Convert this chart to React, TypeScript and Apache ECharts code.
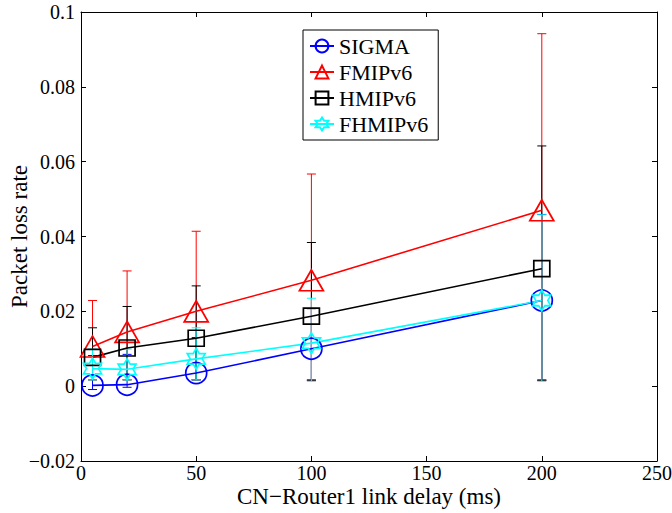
import React, { useEffect, useRef } from "react";
import * as echarts from "echarts";

// Data
const xValues = [5, 20, 50, 100, 200];
const seriesNames = ["SIGMA", "FMIPv6", "HMIPv6", "FHMIPv6"];
const sigma = [0.0002, 0.0004, 0.0035, 0.0100, 0.0229];
const fmip = [0.0106, 0.0145, 0.0200, 0.0283, 0.0470];
const hmip = [0.0077, 0.0102, 0.0128, 0.0187, 0.0314];
const fhmip = [0.0047, 0.0045, 0.0073, 0.0115, 0.0229];
const sigmaLow = [-0.0009, -0.0003, 0.0017, 0.0016, 0.0016];
const sigmaHigh = [0.0082, 0.0085, 0.0130, 0.0207, 0.0459];
const fmipLow = [0.0017, 0.0017, 0.0017, 0.0016, 0.0016];
const fmipHigh = [0.0229, 0.0308, 0.0414, 0.0567, 0.0942];
const hmipLow = [0.0017, 0.0017, 0.0017, 0.0016, 0.0016];
const hmipHigh = [0.0156, 0.0213, 0.0268, 0.0384, 0.0642];
const fhmipLow = [0.0017, 0.0017, 0.0017, 0.0013, 0.0013];
const fhmipHigh = [0.0099, 0.0099, 0.0156, 0.0235, 0.0458];
const yTickLabels = ["\u22120.02", "0", "0.02", "0.04", "0.06", "0.08", "0.1"];
const xTickLabels = ["0", "50", "100", "150", "200", "250"];

const FONT = "'Liberation Serif', 'Times New Roman', serif";
const HEXAGRAM =
  "path://M0,-100L28.9,-50L86.6,-50L57.7,0L86.6,50L28.9,50L0,100L-28.9,50L-86.6,50L-57.7,0L-86.6,-50L-28.9,-50Z";

export default function App() {
  const ref = useRef<HTMLDivElement>(null);
  useEffect(() => {
    if (!ref.current) return;
    const chart = echarts.init(ref.current, null, { renderer: "svg" });
    const yMin = -0.02, yStep = 0.02;
    const xStep = 50;

    const specs = [
      { name: seriesNames[0], vals: sigma, lo: sigmaLow, hi: sigmaHigh, color: "#0000ff", symbol: "circle", size: [21, 21] },
      { name: seriesNames[1], vals: fmip, lo: fmipLow, hi: fmipHigh, color: "#ff0000", symbol: "triangle", size: [24, 21] },
      { name: seriesNames[2], vals: hmip, lo: hmipLow, hi: hmipHigh, color: "#000000", symbol: "rect", size: [16, 16] },
      { name: seriesNames[3], vals: fhmip, lo: fhmipLow, hi: fhmipHigh, color: "#00ffff", symbol: HEXAGRAM, size: [18, 21] },
    ];

    const series: any[] = [];
    specs.forEach((s) => {
      series.push({
        type: "custom",
        name: s.name + " err",
        xAxisIndex: 0,
        yAxisIndex: 0,
        data: xValues.map((x, i) => [x, s.lo[i], s.hi[i]]),
        encode: { x: 0, y: [1, 2] },
        renderItem: (params: any, api: any) => {
          const x = api.value(0);
          const lo = api.coord([x, api.value(1)]);
          const hi = api.coord([x, api.value(2)]);
          const hw = 4.5;
          const st = { stroke: s.color, lineWidth: 1 };
          return {
            type: "group",
            children: [
              { type: "line", shape: { x1: lo[0], y1: lo[1], x2: hi[0], y2: hi[1] }, style: st },
              { type: "line", shape: { x1: lo[0] - hw, y1: lo[1], x2: lo[0] + hw, y2: lo[1] }, style: st },
              { type: "line", shape: { x1: hi[0] - hw, y1: hi[1], x2: hi[0] + hw, y2: hi[1] }, style: st },
            ],
          };
        },
      });
      series.push({
        type: "line",
        name: s.name,
        xAxisIndex: 0,
        yAxisIndex: 0,
        data: xValues.map((x, i) => [x, s.vals[i]]),
        symbol: s.symbol,
        symbolSize: s.size,
        symbolKeepAspect: false,
        showAllSymbol: true,
        lineStyle: { color: s.color, width: 1.6 },
        itemStyle: { color: "rgba(255,255,255,0)", borderColor: s.color, borderWidth: 1.7 },
        emphasis: { disabled: true },
      });
    });

    const axisText = { color: "#000", fontFamily: FONT, fontSize: 20 };
    chart.setOption({
      animation: false,
      grid: { left: 81, right: 15, top: 12, bottom: 52, show: false, containLabel: false, outerBoundsMode: "none" },
      legend: {
        data: seriesNames,
        orient: "vertical",
        left: 303,
        top: 30,
        padding: [5, 10, 5, 6],
        itemGap: 4,
        itemWidth: 24,
        itemHeight: 16,
        backgroundColor: "#fff",
        borderColor: "#000",
        borderWidth: 1,
        textStyle: { color: "#000", fontFamily: FONT, fontSize: 22, lineHeight: 22 },
      },
      xAxis: [
        {
          type: "value",
          min: 0,
          max: 250,
          interval: xStep,
          position: "bottom",
          name: "CN\u2212Router1 link delay (ms)",
          nameLocation: "middle",
          nameGap: 25,
          nameMoveOverlap: false,
          nameTextStyle: { color: "#000", fontFamily: FONT, fontSize: 23, lineHeight: 20 },
          axisLine: { show: true, onZero: false, lineStyle: { color: "#000", width: 1 } },
          axisTick: { show: true, inside: true, length: 5, lineStyle: { color: "#000" } },
          axisLabel: { ...axisText, margin: 3, lineHeight: 18, formatter: (v: number) => xTickLabels[Math.round(v / xStep)] },
          splitLine: { show: false },
        },
        {
          type: "value",
          min: 0,
          max: 250,
          interval: xStep,
          position: "top",
          axisLine: { show: true, onZero: false, lineStyle: { color: "#000", width: 1 } },
          axisTick: { show: true, inside: true, length: 5, lineStyle: { color: "#000" } },
          axisLabel: { show: false },
          splitLine: { show: false },
        },
      ],
      yAxis: [
        {
          type: "value",
          min: yMin,
          max: 0.1,
          interval: yStep,
          position: "left",
          name: "Packet loss rate",
          nameLocation: "middle",
          nameGap: 50,
          nameMoveOverlap: false,
          nameTextStyle: { color: "#000", fontFamily: FONT, fontSize: 23 },
          axisLine: { show: true, onZero: false, lineStyle: { color: "#000", width: 1 } },
          axisTick: { show: true, inside: true, length: 5, lineStyle: { color: "#000" } },
          axisLabel: { ...axisText, margin: 6, lineHeight: 16, formatter: (v: number) => yTickLabels[Math.round((v - yMin) / yStep)] },
          splitLine: { show: false },
        },
        {
          type: "value",
          min: yMin,
          max: 0.1,
          interval: yStep,
          position: "right",
          axisLine: { show: true, onZero: false, lineStyle: { color: "#000", width: 1 } },
          axisTick: { show: true, inside: true, length: 5, lineStyle: { color: "#000" } },
          axisLabel: { show: false },
          splitLine: { show: false },
        },
      ],
      series,
    });
    return () => chart.dispose();
  }, []);
  return <div ref={ref} style={{ width: 672, height: 513, position: "absolute", left: 0, top: 0, background: "#fff" }} />;
}
